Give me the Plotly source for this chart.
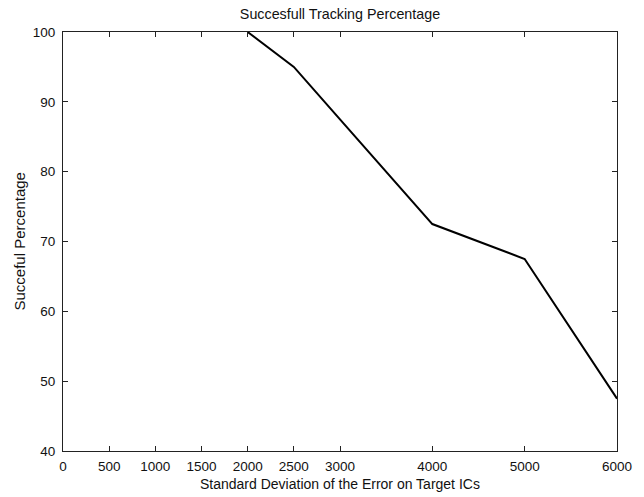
import plotly.graph_objects as go

x_values = [2000, 2500, 3000, 4000, 5000, 6000]
success_pct = [100, 95, 87.5, 72.5, 67.5, 47.5]
x_ticks = [0, 500, 1000, 1500, 2000, 2500, 3000, 4000, 5000, 6000]
y_ticks = [40, 50, 60, 70, 80, 90, 100]

title_text = "Succesfull Tracking Percentage"
x_label = "Standard Deviation of the Error on Target ICs"
y_label = "Succeful Percentage"

fig = go.Figure()
fig.add_trace(go.Scatter(x=x_values, y=success_pct, mode="lines",
                         line=dict(color="black", width=2), showlegend=False,
                         cliponaxis=False))

fam = "Liberation Sans, Arial, sans-serif"
tick_font = dict(family=fam, size=13.5, color="#111111")
fig.update_layout(
    width=644, height=497,
    margin=dict(l=63, r=17, t=32, b=46),
    paper_bgcolor="white", plot_bgcolor="white",
    font=dict(family=fam, size=13.5, color="#111111"),
    title=dict(text=title_text, x=0.5, xanchor="center",
               xref="paper", yref="container", y=1 - 14/497, yanchor="middle",
               font=dict(family=fam, size=14.3, color="#111111")),
    annotations=[
        dict(text=x_label, xref="paper", yref="paper", x=0.5, y=0,
             xanchor="center", yanchor="middle", yshift=-33, showarrow=False,
             font=dict(family=fam, size=14, color="#111111")),
        dict(text=y_label, xref="paper", yref="paper", x=0, y=0.5,
             xanchor="center", yanchor="middle", xshift=-44, textangle=-90,
             showarrow=False, font=dict(family=fam, size=15, color="#111111")),
    ],
)
axis_common = dict(showgrid=False, zeroline=False, showline=True, linecolor="#222222",
                   linewidth=1, mirror="ticks", ticks="inside", ticklen=5,
                   tickcolor="#222222", tickfont=tick_font)
fig.update_xaxes(range=[0, 6000], tickvals=x_ticks, ticktext=[str(v) for v in x_ticks],
                 ticklabelstandoff=3, **axis_common)
fig.update_yaxes(range=[40, 100], tickvals=y_ticks, ticklabelstandoff=4, **axis_common)

fig.write_html("out.html")
